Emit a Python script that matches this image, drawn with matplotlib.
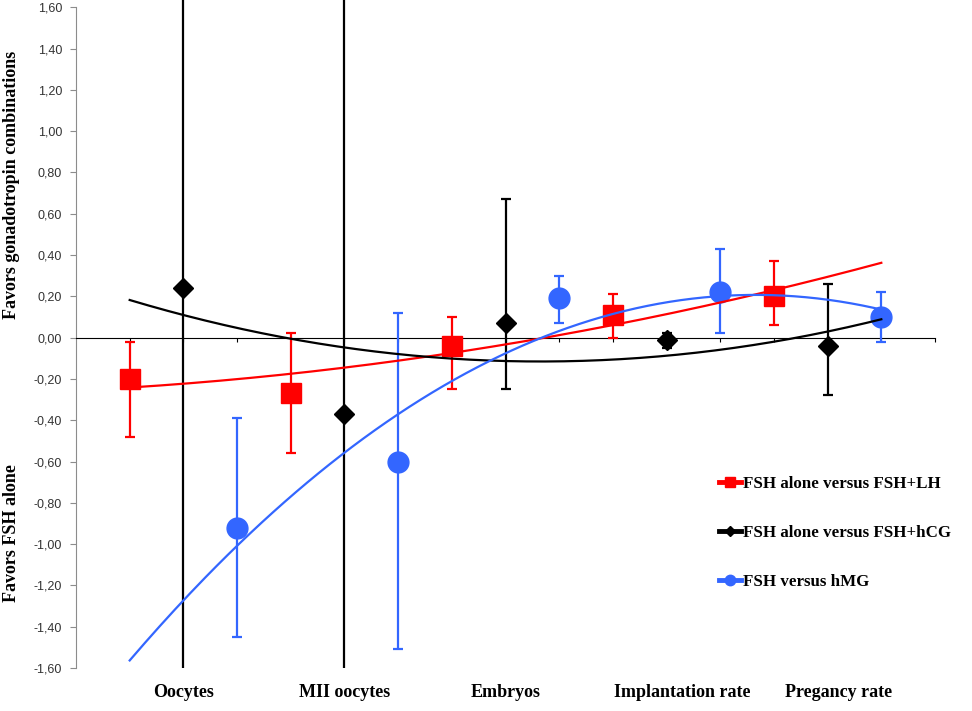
import numpy as np
from matplotlib import pyplot as plt
from matplotlib.lines import Line2D

# categories (each has three series side by side)
categories = ["Oocytes", "MII oocytes", "Embryos", "Implantation rate", "Pregancy rate"]
label_pos = [1.0, 4.0, 7.0, 10.3, 13.2]

# FSH alone versus FSH+LH
lh_x = [0, 3, 6, 9, 12]
lh_y = [-0.20, -0.27, -0.04, 0.11, 0.20]
lh_lo = [-0.48, -0.56, -0.25, 0.00, 0.06]
lh_hi = [-0.02, 0.02, 0.10, 0.21, 0.37]

# FSH alone versus FSH+hCG
hcg_x = [1, 4, 7, 10, 13]
hcg_y = [0.24, -0.37, 0.07, -0.01, -0.04]
hcg_lo = [-2.20, -2.60, -0.25, -0.05, -0.28]
hcg_hi = [2.60, 2.10, 0.67, 0.02, 0.26]

# FSH versus hMG
hmg_x = [2, 5, 8, 11, 14]
hmg_y = [-0.92, -0.60, 0.19, 0.22, 0.10]
hmg_lo = [-1.45, -1.51, 0.07, 0.02, -0.02]
hmg_hi = [-0.39, 0.12, 0.30, 0.43, 0.22]

yticks = np.round(np.arange(-1.6, 1.61, 0.2), 2)

red = "#ff0000"
blue = "#3366ff"
black = "#000000"

plt.rcParams["font.family"] = ["Liberation Serif", "DejaVu Serif"]

fig = plt.figure(figsize=(9.72, 7.11), dpi=100)
ax = fig.add_axes([76 / 972, 1 - 668 / 711, (935 - 76) / 972, 668 / 711])

series = [
    (lh_x, lh_y, lh_lo, lh_hi, red, "s", 14, "FSH alone versus FSH+LH"),
    (hcg_x, hcg_y, hcg_lo, hcg_hi, black, "D", 10, "FSH alone versus FSH+hCG"),
    (hmg_x, hmg_y, hmg_lo, hmg_hi, blue, "o", 15, "FSH versus hMG"),
]

handles = []
fit_x = np.linspace(0, 14, 200)
for x, y, lo, hi, col, mk, ms, name in series:
    x = np.array(x, dtype=float)
    y = np.array(y)
    err = [y - np.array(lo), np.array(hi) - y]
    ax.errorbar(x, y, yerr=err, fmt=mk, color=col, ms=ms, mec=col,
                elinewidth=1.6, capsize=3.5, capthick=1.6, zorder=3)
    # second order trend line, as in the spreadsheet
    coef = np.polyfit(x, y, 2)
    ax.plot(fit_x, np.polyval(coef, fit_x), color=col, lw=1.6, zorder=4)
    handles.append(Line2D([], [], color=col, marker=mk, ms=ms * 0.5, lw=3.5, label=name))

ax.set_xlim(-1, 15)
ax.set_ylim(-1.6, 1.635)

# x axis crosses at zero
ax.spines["bottom"].set_position(("data", 0))
ax.spines["bottom"].set_color("black")
ax.spines["top"].set_visible(False)
ax.spines["right"].set_visible(False)
ax.spines["left"].set_color("#8c8c8c")
ax.spines["left"].set_bounds(-1.6, 1.6)
ax.set_xticks(np.arange(0, 16))
ax.tick_params(axis="x", length=3, color="black", labelbottom=False)
ax.set_yticks(yticks)
ax.set_yticklabels([f"{v + 0.0:.2f}".replace(".", ",").replace("-0,00", "0,00") for v in yticks],
                   fontfamily="Liberation Sans", fontsize=9, color="#333333")
ax.tick_params(axis="y", length=4, color="#8c8c8c", pad=6)

for pos, cat in zip(label_pos, categories):
    ax.text(pos, -1.72, cat, ha="center", va="center",
            fontsize=13, fontweight="bold")

fig.text(12 / 972, 1 - 185 / 711, "Favors gonadotropin combinations",
         rotation=90, ha="center", va="center", fontsize=13, fontweight="bold")
fig.text(12 / 972, 1 - 533 / 711, "Favors FSH alone",
         rotation=90, ha="center", va="center", fontsize=13, fontweight="bold")

fig.legend(handles=handles, loc="upper left", bbox_to_anchor=(704 / 972, 1 - 461 / 711),
           frameon=False, handlelength=1.3, handletextpad=0.1, labelspacing=1.95,
           prop={"family": "Liberation Serif", "weight": "bold", "size": 12.2})

fig.savefig("out.png", dpi=100)
